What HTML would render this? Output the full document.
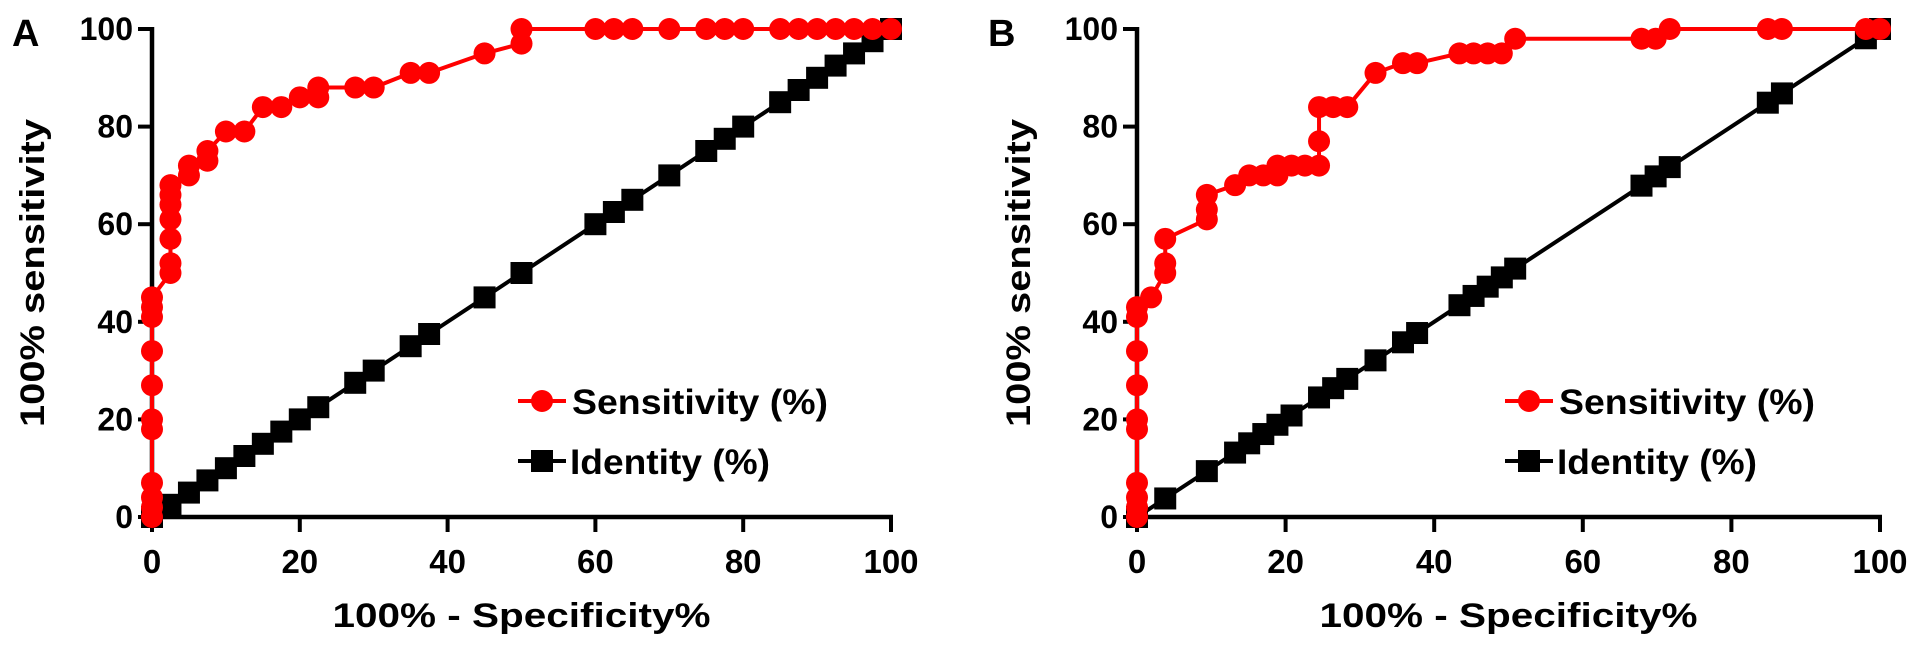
<!DOCTYPE html>
<html><head><meta charset="utf-8"><style>
html,body{margin:0;padding:0;background:#fff;}
svg{display:block;font-family:"Liberation Sans",Arial,sans-serif;font-weight:bold;}
</style></head><body>
<svg id="chart" width="1913" height="648" viewBox="0 0 1913 648"></svg>
<script>
const tickValues=[0,20,40,60,80,100];
const tickLabels=["0","20","40","60","80","100"];
const sensAx=[0,0,0,0,0,0,0,0,0,0,0,2.5,2.5,2.5,2.5,2.5,2.5,2.5,5,5,7.5,7.5,10,12.5,15,17.5,20,22.5,22.5,27.5,30,35,37.5,45,50,50,60,62.5,65,70,75,77.5,80,85,87.5,90,92.5,95,97.5,100];
const sensAy=[0,2,4,7,18,20,27,34,41,43,45,50,52,57,61,64,66,68,70,72,73,75,79,79,84,84,86,86,88,88,88,91,91,95,97,100,100,100,100,100,100,100,100,100,100,100,100,100,100,100];
const identAx=[0,2.5,5,7.5,10,12.5,15,17.5,20,22.5,27.5,30,35,37.5,45,50,60,62.5,65,70,75,77.5,80,85,87.5,90,92.5,95,97.5,100];
const identAy=[0,2.5,5,7.5,10,12.5,15,17.5,20,22.5,27.5,30,35,37.5,45,50,60,62.5,65,70,75,77.5,80,85,87.5,90,92.5,95,97.5,100];
const sensBx=[0,0,0,0,0,0,0,0,0,0,1.9,3.8,3.8,3.8,9.4,9.4,9.4,13.2,15.1,17,18.9,18.9,20.8,22.6,24.5,24.5,24.5,26.4,28.3,32.1,35.8,37.7,43.4,45.3,47.2,49.1,50.9,67.9,69.8,71.7,84.9,86.8,98.1,100];
const sensBy=[0,2,4,7,18,20,27,34,41,43,45,50,52,57,61,63,66,68,70,70,70,72,72,72,72,77,84,84,84,91,93,93,95,95,95,95,98,98,98,100,100,100,100,100];
const identBx=[0,3.8,9.4,13.2,15.1,17,18.9,20.8,24.5,26.4,28.3,32.1,35.8,37.7,43.4,45.3,47.2,49.1,50.9,67.9,69.8,71.7,84.9,86.8,98.1,100];
const identBy=[0,3.8,9.4,13.2,15.1,17,18.9,20.8,24.5,26.4,28.3,32.1,35.8,37.7,43.4,45.3,47.2,49.1,50.9,67.9,69.8,71.7,84.9,86.8,98.1,100];

const NS="http://www.w3.org/2000/svg";
const svg=document.getElementById('chart');
function mk(tag,attrs,parent){const e=document.createElementNS(NS,tag);for(const k in attrs)e.setAttribute(k,attrs[k]);(parent||svg).appendChild(e);return e;}

function panel(id,x0,x1,letter,letterX,ytitleX,legX,sx,sy,ix,iy){
  const y0=517,y1=29;
  const X=v=>x0+(x1-x0)*v/100, Y=v=>y0-(y0-y1)*v/100;
  const g=mk('g',{});
  
  
  const ya=mk('line',{x1:x0,y1:y1-2,x2:x0,y2:y0+2,stroke:'#000','stroke-width':4.5},g);
  
  
  const xa=mk('line',{x1:x0-2,y1:y0,x2:x1+2,y2:y0,stroke:'#000','stroke-width':4.5},g);
  
  
  tickValues.forEach((v,i)=>{
    mk('line',{x1:x0-14,y1:Y(v),x2:x0,y2:Y(v),stroke:'#000','stroke-width':4},g);
    const t=mk('text',{x:x0-19,y:Y(v)+11,'font-size':32,'text-anchor':'end'},g);
    t.textContent=tickLabels[i];
    
    
    mk('line',{x1:X(v),y1:y0,x2:X(v),y2:y0+15,stroke:'#000','stroke-width':4},g);
    const tx=mk('text',{x:X(v),y:y0+56,'font-size':33,'text-anchor':'middle'},g);
    tx.textContent=tickLabels[i];
    
    
  });
  const xt=mk('text',{x:(x0+x1)/2,y:627,'font-size':34,'text-anchor':'middle',textLength:378,lengthAdjust:'spacingAndGlyphs'},g);
  xt.textContent='100% - Specificity%';
  
  
  const yt=mk('text',{x:0,y:0,'font-size':34,'text-anchor':'middle',textLength:308,lengthAdjust:'spacingAndGlyphs',transform:`translate(${ytitleX},273) rotate(-90)`},g);
  yt.textContent='100% sensitivity';
  
  
  const lt=mk('text',{x:letterX,y:46,'font-size':38},g);
  lt.textContent=letter;
  
  
  const ip=mk('polyline',{points:ix.map((v,i)=>X(v)+','+Y(iy[i])).join(' '),fill:'none',stroke:'#000','stroke-width':4},g);
  
  
  ix.forEach((v,i)=>{
    const r=mk('rect',{x:X(v)-11,y:Y(iy[i])-11,width:22,height:22,fill:'#000'},g);
    
    
  });
  const sp=mk('polyline',{points:sx.map((v,i)=>X(v)+','+Y(sy[i])).join(' '),fill:'none',stroke:'#f00','stroke-width':4},g);
  
  
  sx.forEach((v,i)=>{
    const c=mk('circle',{cx:X(v),cy:Y(sy[i]),r:11,fill:'#f00'},g);
    
    
  });
  const lg=mk('g',{},g);
  
  
  mk('line',{x1:legX,y1:401,x2:legX+48,y2:401,stroke:'#f00','stroke-width':4},lg);
  mk('circle',{cx:legX+24,cy:401,r:11,fill:'#f00'},lg);
  const l1=mk('text',{x:legX+54,y:414,'font-size':35,textLength:256,lengthAdjust:'spacingAndGlyphs'},lg);
  l1.textContent='Sensitivity (%)';
  
  
  mk('line',{x1:legX,y1:461,x2:legX+48,y2:461,stroke:'#000','stroke-width':4},lg);
  mk('rect',{x:legX+13,y:450,width:22,height:22,fill:'#000'},lg);
  const l2=mk('text',{x:legX+52,y:474,'font-size':35,textLength:200,lengthAdjust:'spacingAndGlyphs'},lg);
  l2.textContent='Identity  (%)';
  
  
}
panel('a',152,891,'A',12,44,518,sensAx,sensAy,identAx,identAy);
panel('b',1137,1880,'B',988,1030,1505,sensBx,sensBy,identBx,identBy);
</script>
</body></html>
